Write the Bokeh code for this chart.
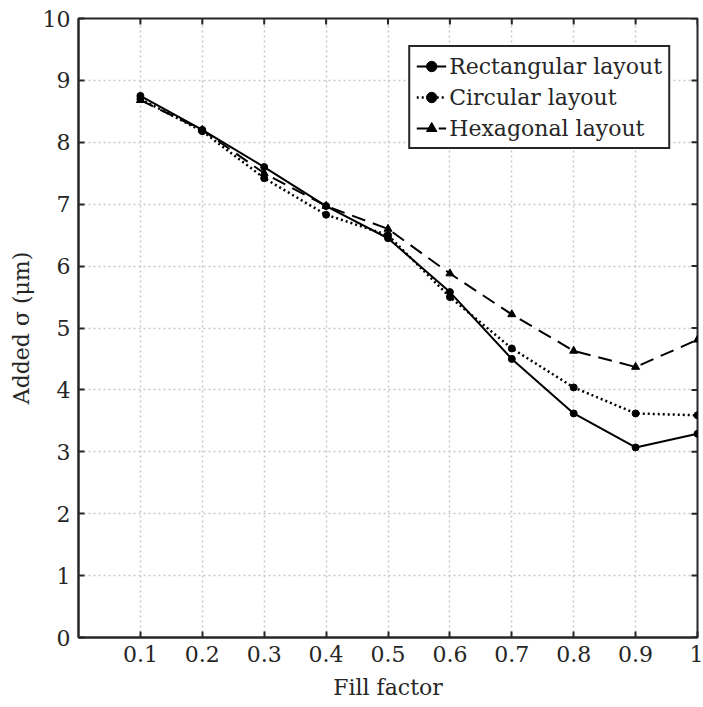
from bokeh.plotting import figure
from bokeh.models import FixedTicker, Range1d
from bokeh.embed import file_html
from bokeh.resources import INLINE

fill_factor = [0.1, 0.2, 0.3, 0.4, 0.5, 0.6, 0.7, 0.8, 0.9, 1.0]
rectangular = [8.75, 8.20, 7.60, 6.97, 6.45, 5.58, 4.50, 3.62, 3.07, 3.29]
circular = [8.70, 8.18, 7.42, 6.83, 6.50, 5.50, 4.67, 4.04, 3.62, 3.59]
hexagonal = [8.68, 8.20, 7.50, 6.97, 6.60, 5.88, 5.22, 4.63, 4.37, 4.81]

x_ticks = [0.1, 0.2, 0.3, 0.4, 0.5, 0.6, 0.7, 0.8, 0.9, 1.0]
x_tick_labels = ["0.1", "0.2", "0.3", "0.4", "0.5", "0.6", "0.7", "0.8", "0.9", "1"]
y_ticks = [0, 1, 2, 3, 4, 5, 6, 7, 8, 9, 10]

FONT = "DejaVu Serif"
AX = "#262626"
X0, X1, Y0, Y1 = 0.0, 1.0, 0.0, 10.0
TICK_PX = 6
FRAME_PX = 619.0

p = figure(width=703, height=707, x_range=Range1d(X0, X1), y_range=Range1d(Y0, Y1),
           output_backend="svg", toolbar_location=None,
           min_border_left=78, min_border_right=6, min_border_top=18, min_border_bottom=70)
p.background_fill_color = "white"
p.border_fill_color = "white"
p.outline_line_color = AX
p.outline_line_width = 2

xt = FixedTicker(ticks=x_ticks)
yt = FixedTicker(ticks=y_ticks)

for ax in [p.xaxis[0], p.yaxis[0]]:
    ax.axis_line_color = AX
    ax.axis_line_width = 2
    ax.major_tick_line_color = AX
    ax.major_tick_line_width = 2
    ax.major_tick_in = TICK_PX
    ax.major_tick_out = 0
    ax.minor_tick_line_color = None
    ax.major_label_text_font = FONT
    ax.major_label_text_font_size = "22px"
    ax.major_label_text_color = AX
    ax.axis_label_text_font = FONT
    ax.axis_label_text_font_size = "22px"
    ax.axis_label_text_font_style = "normal"
    ax.axis_label_text_color = AX

p.xaxis[0].ticker = xt
p.xaxis[0].major_label_overrides = {t: l for t, l in zip(x_ticks, x_tick_labels)}
p.xaxis[0].major_label_standoff = 8
p.xaxis[0].axis_label = "Fill factor"
p.xaxis[0].axis_label_standoff = 10
p.yaxis[0].ticker = yt
p.yaxis[0].major_label_standoff = 8
p.yaxis[0].axis_label = "Added σ (μm)"
p.yaxis[0].axis_label_standoff = 6

# inward ticks on the top and right edges of the box
dy = TICK_PX * (Y1 - Y0) / FRAME_PX
dx = TICK_PX * (X1 - X0) / FRAME_PX
p.segment(x0=x_ticks, y0=[Y1] * len(x_ticks), x1=x_ticks, y1=[Y1 - dy] * len(x_ticks),
          line_color=AX, line_width=2)
p.segment(x0=[X1] * len(y_ticks), y0=y_ticks, x1=[X1 - dx] * len(y_ticks), y1=y_ticks,
          line_color=AX, line_width=2)

p.xgrid.ticker = xt
p.ygrid.ticker = yt
for g in [p.xgrid[0], p.ygrid[0]]:
    g.grid_line_color = "#c8c8c8"
    g.grid_line_dash = "2 3"
    g.grid_line_width = 1.5

p.line(fill_factor, rectangular, line_color="black", line_width=2, legend_label="Rectangular layout")
p.scatter(fill_factor, rectangular, marker="circle", size=7, color="black", legend_label="Rectangular layout")
p.line(fill_factor, circular, line_color="black", line_width=2.5, line_dash="2 3", legend_label="Circular layout")
p.scatter(fill_factor, circular, marker="circle", size=7, color="black", legend_label="Circular layout")
p.line(fill_factor, hexagonal, line_color="black", line_width=2, line_dash="14 8", legend_label="Hexagonal layout")
p.scatter(fill_factor, hexagonal, marker="triangle", size=8, color="black", legend_label="Hexagonal layout")

lg = p.legend[0]
lg.location = "top_right"
lg.margin = 27
lg.border_line_color = AX
lg.border_line_width = 2
lg.border_line_alpha = 1.0
lg.label_text_font = FONT
lg.label_text_font_size = "22px"
lg.label_text_color = AX
lg.glyph_width = 30
lg.glyph_height = 26
lg.label_height = 26
lg.spacing = 5
lg.padding = 6
lg.label_standoff = 3
lg.background_fill_alpha = 1.0

open("out.html", "w").write(file_html(p, INLINE))
